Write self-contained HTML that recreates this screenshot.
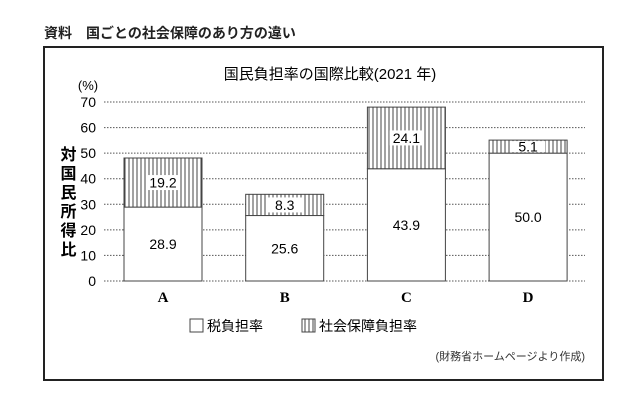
<!DOCTYPE html>
<html><head><meta charset="utf-8"><style>
body{margin:0;background:#fff;width:640px;height:412px;overflow:hidden;font-family:"Liberation Sans","Noto Sans CJK JP",sans-serif;color:#222}
</style></head><body>
<svg width="640" height="412" xmlns="http://www.w3.org/2000/svg" font-family="Liberation Sans, Noto Sans CJK JP, sans-serif">
<defs><pattern id="vstripe" width="4" height="4" patternUnits="userSpaceOnUse"><rect width="4" height="4" fill="#fff"/><line x1="1" y1="0" x2="1" y2="4" stroke="#444" stroke-width="1"/></pattern></defs>
<text x="44" y="38" font-size="14" fill="#222" font-weight="bold">資料　国ごとの社会保障のあり方の違い</text>
<rect x="44" y="47" width="559" height="333" fill="none" stroke="#222" stroke-width="2"/>
<text x="330" y="79" font-size="15" text-anchor="middle">国民負担率の国際比較(2021 年)</text>
<text x="88" y="90" font-size="13" text-anchor="middle">(%)</text>
<text x="66" y="146" font-size="16" text-anchor="start" style="writing-mode:vertical-rl;letter-spacing:3px" font-weight="bold">対国民所得比</text>
<g id="grid"></g><g id="bars"></g>
<g>
<rect x="190" y="319" width="13" height="13" fill="#fff" stroke="#444"/>
<text x="207" y="331" font-size="14">税負担率</text>
<rect x="302" y="319" width="13" height="13" fill="url(#vstripe)" stroke="#444"/>
<text x="319" y="331" font-size="14">社会保障負担率</text>
</g>
<text x="585" y="360" font-size="11" text-anchor="end" fill="#333">(財務省ホームページより作成)</text>
</svg>
<script>
const categories=["A","B","C","D"];
const taxValues=[28.9,25.6,43.9,50.0];
const socialValues=[19.2,8.3,24.1,5.1];
const yTicks=[0,10,20,30,40,50,60,70];
const NS="http://www.w3.org/2000/svg";
const y0=281,yTop=102,yMax=70;
const y=v=>y0-(v/yMax)*(y0-yTop);
const x=i=>124+i*121.7;
const bw=78;
function mk(t,a,p){const e=document.createElementNS(NS,t);for(const k in a)e.setAttribute(k,a[k]);p.appendChild(e);return e;}
const grid=document.getElementById('grid'),bars=document.getElementById('bars');
yTicks.forEach(t=>{
 const l=mk('line',{x1:104,x2:585,y1:y(t),y2:y(t),stroke:'#555','stroke-width':1,'stroke-dasharray':'1.5 1.5'},grid);
 
 
 const tx=mk('text',{x:96,y:y(t)+5,'font-size':14,'text-anchor':'end'},grid);
 tx.textContent=t;
 
 
});
categories.forEach((c,i)=>{
 const t=taxValues[i],s=socialValues[i];
 const r1=mk('rect',{x:x(i),y:y(t),width:bw,height:y0-y(t),fill:'#fff',stroke:'#444'},bars);
 
 
 const r2=mk('rect',{x:x(i),y:y(t+s),width:bw,height:y(t)-y(t+s),fill:'url(#vstripe)',stroke:'#444'},bars);
 
 
 const cx=x(i)+bw/2;
 const l1=mk('text',{x:cx,y:(y(t)+y0)/2+5,'font-size':14,'text-anchor':'middle'},bars);
 l1.textContent=t.toFixed(1);
 
 
 const my=(y(t)+y(t+s))/2;
 const segH=y(t)-y(t+s);
 const bh=Math.min(15,segH-2);
 const bg=mk('rect',{x:cx-17,y:my-bh/2,width:34,height:bh,fill:'#fff'},bars);
 
 
 const l2=mk('text',{x:cx,y:my+5,'font-size':14,'text-anchor':'middle'},bars);
 l2.textContent=s.toFixed(1);
 
 
 const cl=mk('text',{x:cx,y:302,'font-size':15,'text-anchor':'middle','font-family':'Liberation Serif, serif','font-weight':'bold'},bars);
 cl.textContent=c;
 
 
});
</script>
</body></html>
